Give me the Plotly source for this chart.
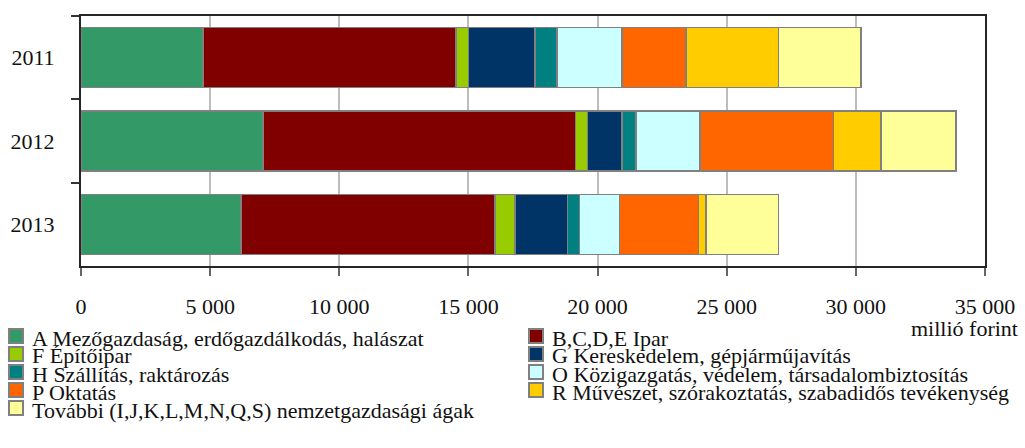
import plotly.graph_objects as go

years = ["2011", "2012", "2013"]
series_names = [
    "A Mezőgazdaság, erdőgazdálkodás, halászat",
    "B,C,D,E Ipar",
    "F Építőipar",
    "G Kereskedelem, gépjárműjavítás",
    "H Szállítás, raktározás",
    "O Közigazgatás, védelem, társadalombiztosítás",
    "P Oktatás",
    "R Művészet, szórakoztatás, szabadidős tevékenység",
    "További (I,J,K,L,M,N,Q,S) nemzetgazdasági ágak",
]
A_vals = [4720, 7050, 6190]
B_vals = [9810, 12090, 9830]
F_vals = [470, 470, 780]
G_vals = [2580, 1330, 2030]
H_vals = [860, 550, 470]
O_vals = [2500, 2470, 1550]
P_vals = [2490, 5170, 3050]
R_vals = [3570, 1850, 300]
Other_vals = [3200, 2890, 2810]
series_values = [A_vals, B_vals, F_vals, G_vals, H_vals, O_vals, P_vals, R_vals, Other_vals]
colors = ["#339966", "#800000", "#99CC00", "#003366", "#008080",
          "#CCFFFF", "#FF6600", "#FFCC00", "#FFFF99"]

x_tickvals = [0, 5000, 10000, 15000, 20000, 25000, 30000, 35000]
x_ticktext = ["0", "5 000", "10 000", "15 000", "20 000", "25 000", "30 000", "35 000"]
unit_label = "millió forint"

FONT = "Liberation Serif, Times New Roman, serif"
FS = 22
TXT = "#111111"

W, H = 1025, 448
ML, MR, MT, MB = 81, 40, 16, 182
PW, PH = W - ML - MR, H - MT - MB


def px_x(px):
    return (px - ML) / PW


def px_y(py):
    return (H - MB - py) / PH


fig = go.Figure()
for name, vals, col in zip(series_names, series_values, colors):
    fig.add_trace(go.Bar(
        y=years, x=vals, name=name, orientation="h",
        marker=dict(color=col, line=dict(color="#808080", width=1.6)),
        showlegend=False,
    ))

# legend drawn as two columns of swatches + labels
shapes = []
annotations = []
col_sq_x = [9, 529]
col_txt_x = [31, 551]
row_y0 = 336
row_step = 18
sq = 14
for i, (name, col) in enumerate(zip(series_names, colors)):
    c = i % 2
    r = i // 2
    cy = row_y0 + r * row_step
    shapes.append(dict(
        type="rect", xref="paper", yref="paper",
        x0=px_x(col_sq_x[c]), x1=px_x(col_sq_x[c] + sq),
        y0=px_y(cy - sq / 2), y1=px_y(cy + sq / 2),
        fillcolor=col, line=dict(color="#808080", width=2), layer="above",
    ))
    annotations.append(dict(
        text=name, xref="paper", yref="paper",
        x=px_x(col_txt_x[c]), y=px_y(cy + 2), xanchor="left", yanchor="middle",
        showarrow=False, borderpad=0,
        font=dict(family=FONT, size=FS, color=TXT),
    ))

annotations.append(dict(
    text=unit_label, xref="paper", yref="paper", x=px_x(1019), y=px_y(328),
    xanchor="right", yanchor="middle", showarrow=False, borderpad=0,
    font=dict(family=FONT, size=FS, color=TXT),
))

fig.update_layout(
    width=W, height=H,
    margin=dict(l=ML, r=MR, t=MT, b=MB, autoexpand=False),
    barmode="stack", bargap=0.28,
    plot_bgcolor="white", paper_bgcolor="white",
    font=dict(family=FONT, size=FS, color=TXT),
    showlegend=False,
    shapes=shapes,
    annotations=annotations,
)
fig.update_xaxes(
    range=[0, 35000], tickvals=x_tickvals, ticktext=x_ticktext,
    showgrid=True, gridcolor="#BDBDBD", gridwidth=1.5,
    showline=True, linecolor="#262626", linewidth=2, mirror=True,
    ticks="outside", ticklen=8, tickcolor="#666666", tickwidth=1.5,
    ticklabelstandoff=12, zeroline=False,
    tickfont=dict(family=FONT, size=FS, color=TXT),
)
fig.update_yaxes(
    categoryorder="array", categoryarray=years, autorange="reversed",
    showgrid=False, showline=True, linecolor="#262626", linewidth=2, mirror=True,
    ticks="outside", ticklen=8, tickcolor="#333333", tickwidth=1.5,
    tickson="boundaries", ticklabelstandoff=20,
    tickfont=dict(family=FONT, size=FS, color=TXT),
)

fig.write_html("out.html", config={"displayModeBar": False},
               post_script="document.body.style.margin='0';")
